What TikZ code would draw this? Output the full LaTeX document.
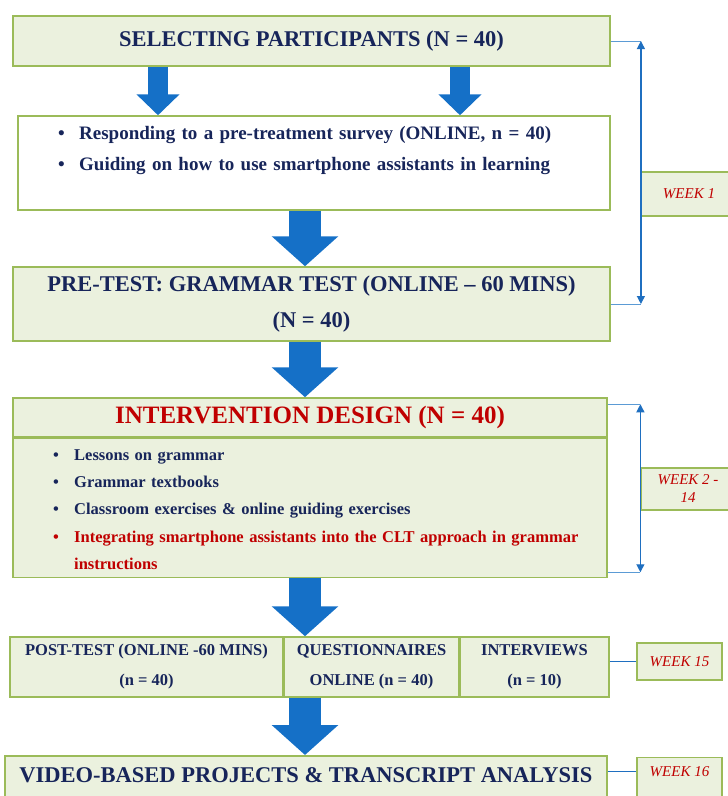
\documentclass[tikz,border=0pt]{standalone}
\usepackage{fontspec}
\setmainfont{Liberation Serif}
\usetikzlibrary{arrows.meta,positioning}
\definecolor{boxfill}{HTML}{EBF1DE}
\definecolor{boxline}{HTML}{9BBB59}
\definecolor{navy}{HTML}{17255A}
\definecolor{darkred}{HTML}{C00000}
\definecolor{blockblue}{HTML}{1570C7}
\definecolor{weekblue}{HTML}{1F6FC0}
\definecolor{linkblue}{HTML}{5B9BD5}
\newcommand{\bul}[1]{\makebox[21pt][l]{\textbullet}#1}
\begin{document}
\begin{tikzpicture}[x=1pt,y=-1pt,
  stage/.style={draw=boxline, line width=1.5pt, fill=boxfill, text=navy,
    inner sep=0pt, align=center, font=\bfseries\fontsize{22.5}{36}\selectfont},
  week/.style={draw=boxline, line width=1.2pt, fill=boxfill, text=darkred,
    inner sep=0pt, align=center, font=\itshape\fontsize{15}{18}\selectfont},
  items/.style={anchor=base west, inner sep=0pt, text=navy, align=left,
    font=\bfseries\fontsize{19}{31}\selectfont},
  bigflow/.style={blockblue, line width=32pt, -{Triangle[width=65pt,length=30pt]}},
  smallflow/.style={blockblue, line width=20pt, -{Triangle[width=42pt,length=21pt]}},
  link/.style={linkblue, line width=1pt},
  span/.style={weekblue, line width=1.2pt,
    {Triangle[width=8pt,length=8pt]}-{Triangle[width=8pt,length=8pt]}}]
  \useasboundingbox (0,0) rectangle (728,796);
  \coordinate (spine) at (305,0);

  % week 1
  \node[stage, minimum width=597pt, minimum height=50pt] (select) at (311.5,41)
    {SELECTING PARTICIPANTS (N = 40)};
  \node[stage, fill=white, minimum width=592pt, minimum height=94pt] (survey) at (314,163) {};
  \node[items, text width=540pt] (surveylist) at (58,139)
    {\bul{Responding to a pre-treatment survey (ONLINE, n = 40)}\\
     \bul{Guiding on how to use smartphone assistants in learning}};
  \node[stage, minimum width=597pt, minimum height=74pt] (pretest) at (311.5,304)
    {PRE-TEST: GRAMMAR TEST (ONLINE -- 60 MINS)\\(N = 40)};

  % weeks 2 - 14
  \node[stage, minimum width=594pt, minimum height=39pt, text=darkred,
    font=\bfseries\fontsize{25}{30}\selectfont] (design) at (310,417.5)
    {INTERVENTION DESIGN (N = 40)};
  \node[stage, minimum width=594pt, minimum height=139pt, anchor=north] (designbody)
    at (design.south) {};
  \node[items, text width=540pt, font=\bfseries\fontsize{16.5}{27.2}\selectfont]
    (designlist) at (53,460.5)
    {\bul{Lessons on grammar}\\
     \bul{Grammar textbooks}\\
     \bul{Classroom exercises \& online guiding exercises}\\
     \textcolor{darkred}{\bul{Integrating smartphone assistants into the CLT approach in grammar}}\\
     \hspace*{21pt}\textcolor{darkred}{instructions}};

  % weeks 15 and 16
  \node[stage, minimum width=273pt, minimum height=60pt,
    font=\bfseries\fontsize{16.5}{30}\selectfont] (posttest) at (146.5,667)
    {POST-TEST (ONLINE -60 MINS)\\(n = 40)};
  \node[stage, minimum width=174pt, minimum height=60pt, anchor=west,
    font=\bfseries\fontsize{16.5}{30}\selectfont] (questionnaire) at (posttest.east)
    {QUESTIONNAIRES\\ONLINE (n = 40)};
  \node[stage, minimum width=149pt, minimum height=60pt, anchor=west,
    font=\bfseries\fontsize{16.5}{30}\selectfont] (interview) at (questionnaire.east)
    {INTERVIEWS\\(n = 10)};
  \node[stage, minimum width=602pt, text height=23pt, text depth=30pt, inner ysep=4pt,
    anchor=north] (video) at (306,755)
    {VIDEO-BASED PROJECTS \& TRANSCRIPT ANALYSIS};

  % week labels
  \node[week, minimum width=95pt, minimum height=44pt] (week1) at (689,194) {WEEK 1};
  \node[week, minimum width=94pt, minimum height=42pt] (week2) at (688,489) {WEEK 2 -\\14};
  \node[week, minimum width=85pt, minimum height=37pt] (week15) at (679.5,661.5) {WEEK 15};
  \node[week, minimum width=85pt, text height=15pt, text depth=30pt, inner ysep=4pt,
    anchor=north] (week16) at (679.5,757) {WEEK 16};

  % block arrows
  \draw[smallflow] ([xshift=-153.5pt]select.south) -- ([xshift=-153.5pt]select.south |- survey.north);
  \draw[smallflow] ([xshift=148.5pt]select.south) -- ([xshift=148.5pt]select.south |- survey.north);
  \draw[bigflow] (survey.south -| spine) -- (pretest.north -| spine);
  \draw[bigflow] (pretest.south -| spine) -- (design.north -| spine);
  \draw[bigflow] (designbody.south -| spine) -- (questionnaire.north -| spine);
  \draw[bigflow] (questionnaire.south -| spine) -- (video.north -| spine);

  % week brackets
  \draw[link] (select.east) -- (select.east -| week1.west);
  \draw[link] (pretest.east) -- (pretest.east -| week1.west);
  \draw[span] (select.east -| week1.west) -- (pretest.east -| week1.west);
  \coordinate (w2top) at ([yshift=-7pt]design.north east);
  \coordinate (w2bot) at ([yshift=6pt]designbody.south east);
  \draw[link] (w2top) -- (w2top -| week2.west);
  \draw[link] (w2bot) -- (w2bot -| week2.west);
  \draw[span] (w2top -| week2.west) -- (w2bot -| week2.west);
  \draw[weekblue, line width=1pt] (interview.east |- week15.west) -- (week15.west);
  \coordinate (w16) at ([yshift=-14pt]week16.north west);
  \draw[weekblue, line width=1pt] (video.east |- w16) -- (w16);
\end{tikzpicture}
\end{document}
